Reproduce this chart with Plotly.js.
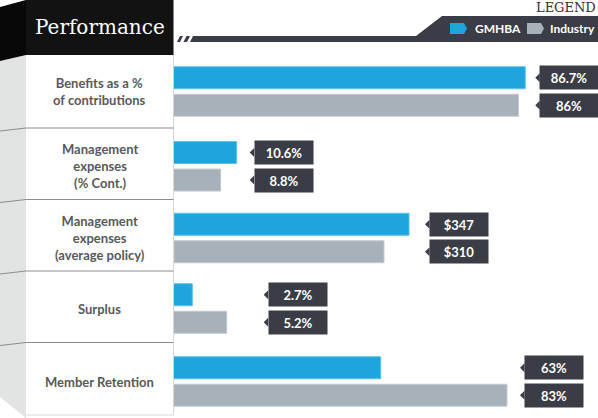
<!DOCTYPE html>
<html>
<head>
<meta charset="utf-8">
<script src="https://cdn.plot.ly/plotly-3.0.1.min.js"></script>
<style>
  html, body { margin: 0; padding: 0; background: #ffffff; }
  #chart { width: 598px; height: 418px; }
</style>
</head>
<body>
<div id="chart"></div>
<script>
// ---------------- data ----------------
const categories = [
    "Benefits as a %<br>of contributions",
    "Management<br>expenses<br>(% Cont.)",
    "Management<br>expenses<br>(average policy)",
    "Surplus",
    "Member Retention"
];
const seriesNames = ["GMHBA", "Industry"];
const gmhbaValues = [86.7, 10.6, 347, 2.7, 63];
const industryValues = [86, 8.8, 310, 5.2, 83];
const gmhbaLabels = ["86.7%", "10.6%", "$347", "2.7%", "63%"];
const industryLabels = ["86%", "8.8%", "$310", "5.2%", "83%"];

// ---------------- layout helpers ----------------
const W = 598, H = 418;
const fx = p => p / W;
const fy = p => 1 - p / H;

const blue = "#1ea5de";
const grey = "#a6b1b9";
const dark = "#3a3d45";

// each row is drawn on its own scale (infographic style)
const axisRanges = [[50, 94.3], [3.55, 51.25], [0, 626], [1.37, 32.18], [30.27, 97.41]];
const rowCenters = [91.5, 166.3, 238, 308.5, 381.5];
const labelShift = [14, 17, 20, 41, 17];
const slot = 27.5;

function poly(points){
    return "M" + points.map(p => fx(p[0]) + "," + fy(p[1])).join("L") + "Z";
}

let traces = [];
let layout = {
    width: W,
    height: H,
    margin: {l: 0, r: 0, t: 0, b: 0},
    paper_bgcolor: "#ffffff",
    plot_bgcolor: "rgba(0,0,0,0)",
    showlegend: false,
    barmode: "overlay",
    shapes: [],
    annotations: []
};

// ---------------- bars ----------------
categories.forEach((cat, i) => {

    let n = i + 1;
    let xa = "x" + (n === 1 ? "" : n);
    let ya = "y" + (n === 1 ? "" : n);

    [gmhbaValues, industryValues].forEach((vals, s) => {
        traces.push({
            type: "bar",
            orientation: "h",
            name: seriesNames[s],
            x: [vals[i]],
            y: [seriesNames[s]],
            xaxis: xa,
            yaxis: ya,
            width: 0.8,
            marker: {
                color: s === 0 ? blue : grey,
                line: {color: s === 0 ? "#5cc0ea" : "#c3cbd1", width: 1}
            },
            hoverinfo: "skip"
        });
    });

    layout["xaxis" + (n === 1 ? "" : n)] = {
        domain: [fx(174), 1],
        range: axisRanges[i],
        anchor: ya,
        visible: false,
        fixedrange: true
    };

    layout["yaxis" + (n === 1 ? "" : n)] = {
        domain: [fy(rowCenters[i] + slot), fy(rowCenters[i] - slot)],
        anchor: xa,
        type: "category",
        categoryorder: "array",
        categoryarray: seriesNames,
        range: [1.5, -0.5],
        visible: false,
        fixedrange: true
    };

    // value callouts
    let labels = [gmhbaLabels[i], industryLabels[i]];
    let xEnd = Math.max(gmhbaValues[i], industryValues[i]);
    let sh = labelShift[i];

    seriesNames.forEach((sn, s) => {
        layout.annotations.push({
            xref: xa, yref: ya,
            x: xEnd, y: sn,
            xanchor: "left", yanchor: "middle",
            xshift: sh,
            text: "<b>" + labels[s] + "</b>",
            showarrow: false,
            width: 54, height: 19,
            borderpad: 2,
            bgcolor: dark,
            align: "center",
            font: {family: "Lato, sans-serif", size: 13, color: "#ffffff"}
        });
        // little pointer on the left of the callout
        layout.shapes.push({
            type: "path",
            xref: xa, yref: ya,
            xsizemode: "pixel", ysizemode: "pixel",
            xanchor: xEnd, yanchor: s,
            path: "M" + (sh - 4) + ",0L" + (sh + 0.5) + ",-4.5L" + (sh + 0.5) + ",4.5Z",
            fillcolor: dark,
            line: {width: 0}
        });
    });

    // category label in the left panel
    layout.annotations.push({
        xref: "paper", yref: ya + " domain",
        x: fx(99.5), y: 0.5,
        xanchor: "center", yanchor: "middle",
        text: "<b>" + cat.split("<br>").join("</b><br><b>") + "</b>",
        showarrow: false,
        align: "center",
        font: {family: "Lato, sans-serif", size: 13, color: "#58595b"}
    });
});

// ---------------- left panel ----------------
layout.shapes.push(
    // grey fold strip
    {type: "path", xref: "paper", yref: "paper", layer: "below",
     path: poly([[0, 61], [26, 55], [26, 418], [0, 397]]),
     fillcolor: "#e2e4e4", line: {width: 0}},
    // dark fold of the header
    {type: "path", xref: "paper", yref: "paper",
     path: poly([[0, 7], [26, 0], [26, 55], [0, 61]]),
     fillcolor: "#080808", line: {width: 0}},
    // header
    {type: "rect", xref: "paper", yref: "paper",
     x0: fx(26), x1: fx(173.5), y0: fy(55), y1: fy(0),
     fillcolor: "#121212", line: {width: 0}},
    // panel border
    {type: "line", xref: "paper", yref: "paper",
     x0: fx(173.5), x1: fx(173.5), y0: fy(55), y1: fy(415),
     line: {color: "#d6d8d8", width: 1}},
    {type: "line", xref: "paper", yref: "paper",
     x0: fx(26), x1: fx(173.5), y0: fy(415), y1: fy(415),
     line: {color: "#d6d8d8", width: 1}}
);

[128, 199.5, 271, 342.5].forEach(y => {
    layout.shapes.push(
        {type: "line", xref: "paper", yref: "paper",
         x0: fx(26), x1: fx(173.5), y0: fy(y), y1: fy(y),
         line: {color: "#8c8c8c", width: 1}},
        {type: "line", xref: "paper", yref: "paper",
         x0: fx(0), x1: fx(26), y0: fy(y + 3), y1: fy(y),
         line: {color: "#8c8c8c", width: 1}}
    );
});

layout.annotations.push({
    xref: "paper", yref: "paper",
    x: fx(99.5), y: fy(27.5),
    xanchor: "center", yanchor: "middle",
    text: "Performance",
    showarrow: false,
    font: {family: "DejaVu Serif, serif", size: 20, color: "#ffffff"}
});

// ---------------- legend ----------------
layout.shapes.push(
    {type: "path", xref: "paper", yref: "paper",
     path: poly([[177, 42], [180, 36], [183, 36], [180, 42]]),
     fillcolor: dark, line: {width: 0}},
    {type: "path", xref: "paper", yref: "paper",
     path: poly([[183.5, 42], [186.5, 36], [190, 36], [187, 42]]),
     fillcolor: dark, line: {width: 0}},
    {type: "path", xref: "paper", yref: "paper",
     path: poly([[190, 42], [193, 36], [416, 36], [442, 16], [598, 16], [598, 42]]),
     fillcolor: dark, line: {width: 0}},
    {type: "path", xref: "paper", yref: "paper",
     path: poly([[450, 23], [464, 23], [467, 28.5], [464, 34], [450, 34]]),
     fillcolor: blue, line: {width: 0}},
    {type: "path", xref: "paper", yref: "paper",
     path: poly([[527, 23], [541, 23], [544, 28.5], [541, 34], [527, 34]]),
     fillcolor: grey, line: {width: 0}}
);

layout.annotations.push(
    {xref: "paper", yref: "paper", x: 1, y: fy(8), xanchor: "right", yanchor: "middle",
     text: "LEGEND", showarrow: false,
     font: {family: "DejaVu Serif, serif", size: 13, color: "#333333"}},
    {xref: "paper", yref: "paper", x: fx(473), y: fy(29), xanchor: "left", yanchor: "middle",
     text: "<b>" + seriesNames[0] + "</b>", showarrow: false,
     font: {family: "Lato, sans-serif", size: 12, color: "#ffffff"}},
    {xref: "paper", yref: "paper", x: fx(548), y: fy(29), xanchor: "left", yanchor: "middle",
     text: "<b>" + seriesNames[1] + "</b>", showarrow: false,
     font: {family: "Lato, sans-serif", size: 12, color: "#ffffff"}}
);

Plotly.newPlot("chart", traces, layout, {displayModeBar: false, staticPlot: true});
</script>
</body>
</html>
